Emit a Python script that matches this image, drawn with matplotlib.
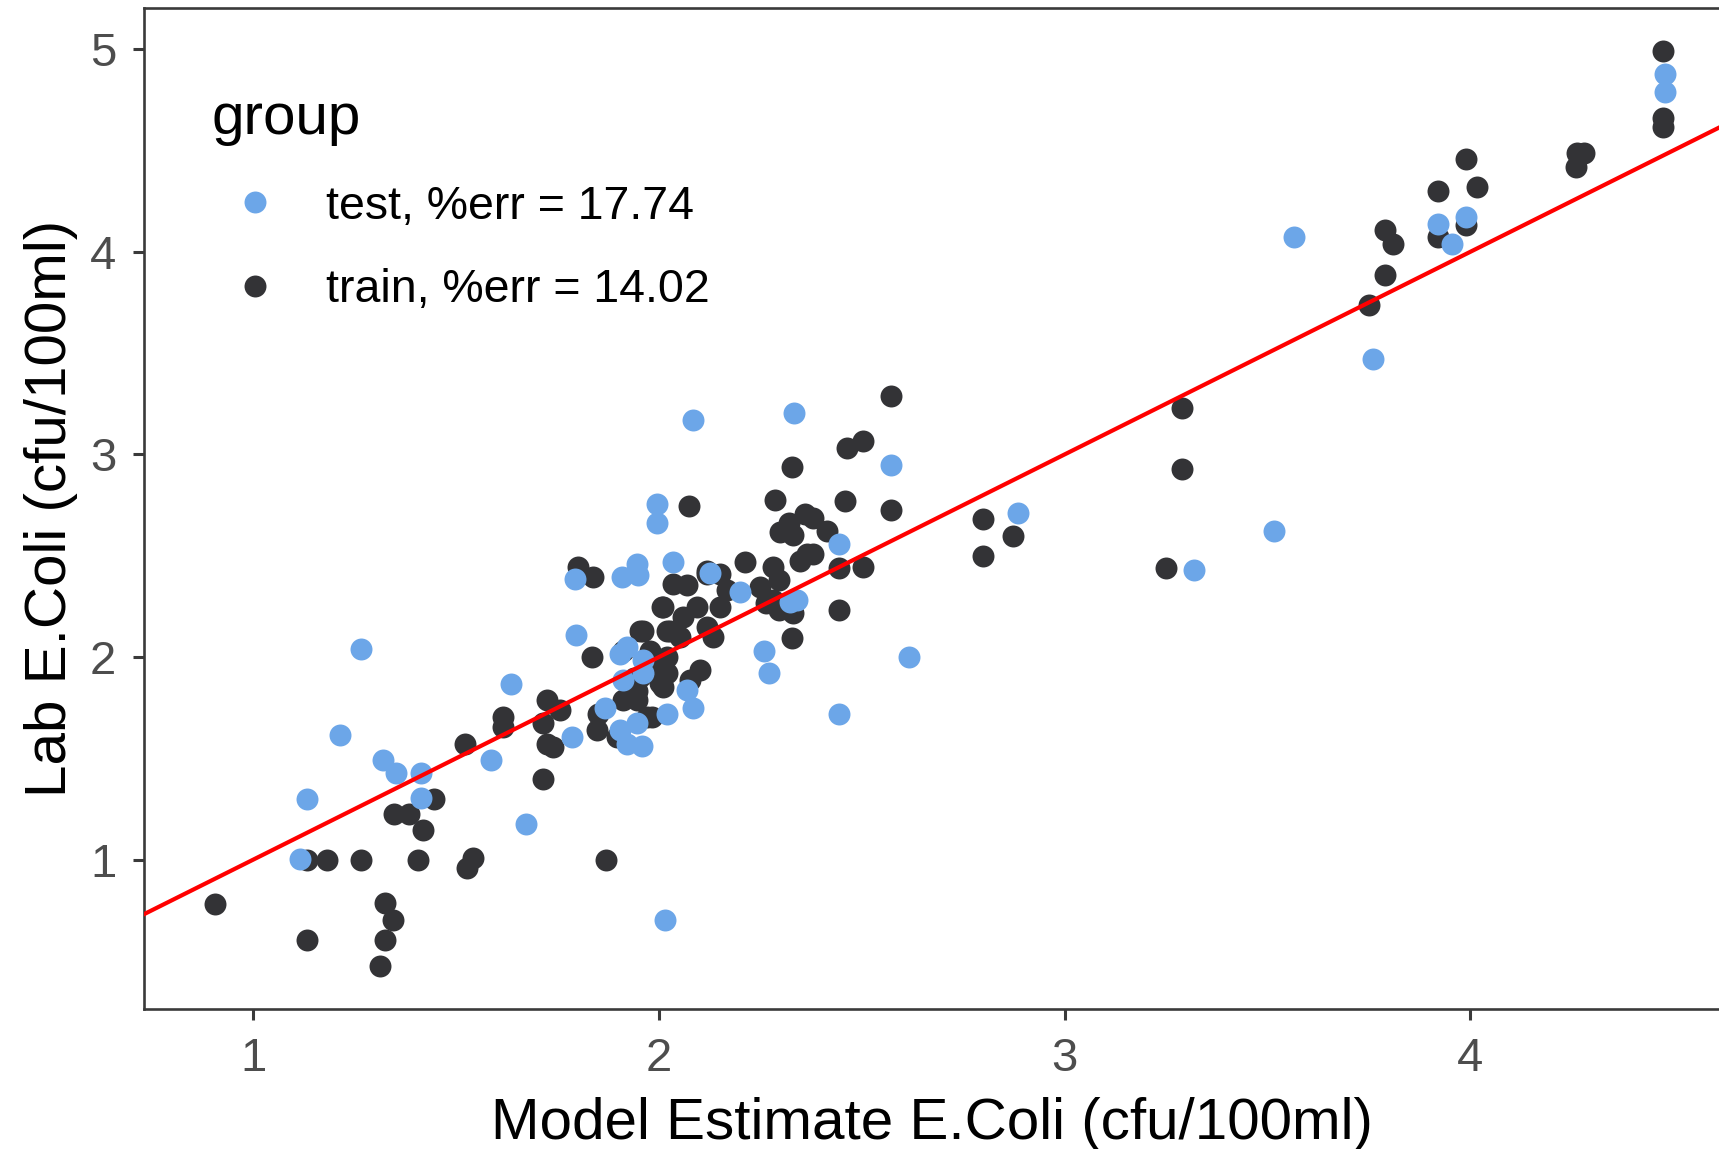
import matplotlib
matplotlib.use("Agg")
import matplotlib.pyplot as plt
from matplotlib.lines import Line2D

# Model estimate (x) vs lab measurement (y), log10 cfu/100ml
test_x = [4.48, 4.48, 3.565, 3.76, 3.92, 3.99, 3.955, 3.516, 3.32, 2.886, 2.573, 2.616,
          2.445, 2.445, 2.332, 2.084, 1.995, 1.995, 2.035, 2.126, 2.20, 2.34, 2.323, 2.26,
          2.272, 1.793, 1.908, 1.949, 1.946, 1.796, 1.904, 1.922, 1.961, 1.912, 1.961, 2.069,
          2.084, 1.868, 2.019, 1.904, 1.946, 1.922, 1.958, 1.786, 2.015, 1.265, 1.214, 1.132,
          1.319, 1.351, 1.413, 1.413, 1.115, 1.585, 1.672, 1.635]
test_y = [4.88, 4.79, 4.075, 3.47, 4.14, 4.17, 4.04, 2.62, 2.43, 2.71, 2.95, 2.00,
          2.56, 1.72, 3.205, 3.17, 2.757, 2.66, 2.47, 2.414, 2.32, 2.28, 2.27, 2.03,
          1.92, 2.384, 2.395, 2.405, 2.46, 2.11, 2.016, 2.05, 1.984, 1.886, 1.92, 1.838,
          1.75, 1.75, 1.72, 1.64, 1.673, 1.573, 1.562, 1.605, 0.70, 2.04, 1.616, 1.30,
          1.49, 1.427, 1.427, 1.303, 1.002, 1.49, 1.178, 1.865]

train_x = [4.476, 4.476, 4.476, 4.263, 4.28, 4.262, 3.99, 4.016, 3.92, 3.92, 3.99, 3.79,
           3.81, 3.79, 3.75, 3.29, 3.29, 3.25, 2.80, 2.873, 2.80, 2.573, 2.503, 2.464,
           2.573, 2.503, 2.445, 2.445, 2.459, 2.329, 2.074, 2.286, 2.322, 2.361, 2.38, 2.414,
           2.299, 2.331, 2.365, 2.381, 2.349, 2.329, 2.212, 2.249, 2.281, 2.297, 2.281, 2.265,
           2.297, 2.33, 1.80, 1.838, 1.835, 2.007, 1.953, 2.035, 2.069, 2.119, 2.151, 2.134,
           2.019, 2.019, 2.019, 2.011, 2.101, 2.077, 1.938, 1.946, 1.912, 1.946, 1.937, 1.953,
           2.003, 2.007, 1.912, 1.961, 1.978, 2.01, 2.027, 2.051, 2.059, 2.093, 2.151, 2.118,
           2.167, 2.118, 1.97, 1.896, 1.847, 1.85, 1.983, 1.723, 1.756, 1.715, 1.739, 1.724,
           1.714, 1.869, 1.522, 1.616, 1.616, 1.446, 1.347, 1.384, 1.419, 1.132, 1.181, 1.265,
           1.405, 1.542, 1.527, 0.905, 1.132, 1.326, 1.345, 1.326, 1.312]
train_y = [4.99, 4.66, 4.615, 4.49, 4.486, 4.42, 4.46, 4.32, 4.30, 4.076, 4.135, 4.11,
           4.04, 3.886, 3.74, 3.227, 2.93, 2.44, 2.68, 2.60, 2.50, 3.29, 3.065, 3.03,
           2.724, 2.443, 2.438, 2.232, 2.768, 2.937, 2.748, 2.773, 2.66, 2.708, 2.684, 2.624,
           2.616, 2.605, 2.508, 2.508, 2.476, 2.092, 2.47, 2.346, 2.443, 2.378, 2.281, 2.265,
           2.232, 2.216, 2.443, 2.395, 2.00, 2.246, 2.131, 2.362, 2.354, 2.411, 2.411, 2.097,
           2.13, 2.00, 1.919, 1.851, 1.935, 1.885, 1.897, 1.832, 1.786, 1.786, 1.854, 1.903,
           1.87, 1.951, 2.032, 2.131, 2.032, 2.246, 2.131, 2.098, 2.197, 2.246, 2.246, 2.148,
           2.33, 2.427, 1.704, 1.605, 1.638, 1.72, 1.703, 1.786, 1.737, 1.673, 1.557, 1.573,
           1.397, 1.00, 1.57, 1.704, 1.654, 1.30, 1.224, 1.224, 1.146, 1.00, 1.00, 1.00,
           1.00, 1.008, 0.958, 0.78, 0.603, 0.784, 0.703, 0.603, 0.476]

group_labels = ["test, %err = 17.74", "train, %err = 14.02"]
group_colors = ["#6CA6E8", "#333336"]

x_ticks = [1, 2, 3, 4]
y_ticks = [1, 2, 3, 4, 5]

plt.rcParams["font.family"] = ["Liberation Sans", "DejaVu Sans"]

fig = plt.figure(figsize=(17.19, 11.49), dpi=100)
ax = fig.add_axes([144 / 1719, 140 / 1149, 1 - 144 / 1719, 1001 / 1149])

ax.scatter(train_x, train_y, s=250, color=group_colors[1], linewidths=0, zorder=2)
ax.scatter(test_x, test_y, s=250, color=group_colors[0], linewidths=0, zorder=3)

ax.axline((1, 1), slope=1, color="#FF0000", lw=3, zorder=4)

ax.set_xlim(0.7307, 4.6135)
ax.set_ylim(0.2627, 5.204)
ax.set_xticks(x_ticks)
ax.set_yticks(y_ticks)

for side in ["left", "bottom", "top"]:
    ax.spines[side].set_color("#3A3A3A")
    ax.spines[side].set_linewidth(1.9)
ax.spines["right"].set_visible(False)

ax.tick_params(axis="both", direction="out", length=8, width=2.2, color="#3A3A3A",
               labelcolor="#4D4D4D", labelsize=34, pad=12)

ax.set_xlabel("Model Estimate E.Coli (cfu/100ml)", fontsize=42, color="black", labelpad=12)
ax.set_ylabel("Lab E.Coli (cfu/100ml)", fontsize=42, color="black", labelpad=8.5)

handles = [Line2D([], [], marker="o", linestyle="", markersize=15.8,
                  markerfacecolor=c, markeredgewidth=0) for c in group_colors]
leg = ax.legend(handles, group_labels, title="group", loc="upper left",
                bbox_to_anchor=(0.043, 0.9164), frameon=False, fontsize=33.5,
                title_fontsize=42, alignment="left", handlelength=1.84,
                handletextpad=0.61, labelspacing=0.84, borderpad=0,
                borderaxespad=0)

fig.savefig("out.png", dpi=100)
